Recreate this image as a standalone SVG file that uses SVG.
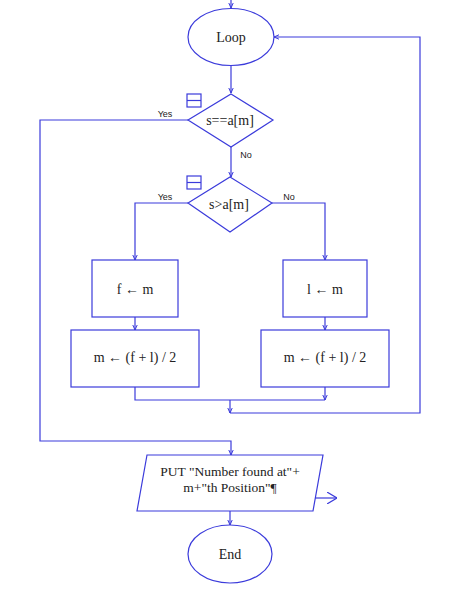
<svg xmlns="http://www.w3.org/2000/svg" width="451" height="611" viewBox="0 0 451 611">
<style>
.s{fill:#fff;stroke:#3b3bdb;stroke-width:1.2}
.c{fill:none;stroke:#3b3bdb;stroke-width:1.2}
.t{font-family:"Liberation Serif","Times New Roman",serif;font-size:14px;fill:#222;text-anchor:middle}
.p{font-size:13.5px}
.l{font-family:"Liberation Sans",Arial,sans-serif;font-size:9px;fill:#222;text-anchor:middle}
</style>
<defs>
<marker id="a" viewBox="0 0 6 6" refX="6" refY="3" markerWidth="6" markerHeight="6" markerUnits="userSpaceOnUse" orient="auto">
<path d="M1,0.8 L6,3 L1,5.2" fill="none" stroke="#3b3bdb" stroke-width="1"/>
</marker>
<marker id="o" viewBox="0 0 10 12" refX="10" refY="6" markerWidth="10" markerHeight="12" markerUnits="userSpaceOnUse" orient="auto">
<path d="M0,0 L10,6 L0,12" fill="none" stroke="#3b3bdb" stroke-width="1.2"/>
</marker>
</defs>
<rect width="451" height="611" fill="#fff"/>
<g id="connectors">
<path class="c" d="M231,0 V8" marker-end="url(#a)"/>
<path class="c" d="M231,65 V93" marker-end="url(#a)"/>
<path class="c" d="M231,147 V177" marker-end="url(#a)"/>
<path class="c" d="M188,120 H40 V441 H231 V455" marker-end="url(#a)"/>
<path class="c" d="M188,203 H135 V260" marker-end="url(#a)"/>
<path class="c" d="M272,203 H325 V260" marker-end="url(#a)"/>
<path class="c" d="M135,317 V330" marker-end="url(#a)"/>
<path class="c" d="M325,317 V330" marker-end="url(#a)"/>
<path class="c" d="M135,387 V400 H325"/>
<path class="c" d="M325,387 V400" marker-end="url(#a)"/>
<path class="c" d="M230,400 V413" marker-end="url(#a)"/>
<path class="c" d="M230,413 H420 V37 H274" marker-end="url(#a)"/>
<path class="c" d="M230,511 V525" marker-end="url(#a)"/>
<path class="c" d="M315,498 H337" marker-end="url(#o)"/>
<text class="l" x="165" y="117">Yes</text>
<text class="l" x="246" y="158">No</text>
<text class="l" x="165" y="200">Yes</text>
<text class="l" x="289" y="200">No</text>
</g>
<g id="loop">
<ellipse class="s" cx="231" cy="37" rx="43" ry="28.5"/>
<text class="t" x="231" y="42">Loop</text>
</g>
<g id="dec1">
<polygon class="s" points="231,94 273,120 231,147 188,120"/>
<rect class="s" x="187" y="94" width="14" height="13"/>
<line class="c" x1="187" y1="100.5" x2="201" y2="100.5"/>
<text class="t" x="230" y="125">s==a[m]</text>
</g>
<g id="dec2">
<polygon class="s" points="230,177 272,203 230,232 188,203"/>
<rect class="s" x="187" y="176" width="14" height="13"/>
<line class="c" x1="187" y1="182.5" x2="201" y2="182.5"/>
<text class="t" x="229" y="209">s&gt;a[m]</text>
</g>
<g id="fm">
<rect class="s" x="92" y="260" width="86" height="57"/>
<text class="t" x="135" y="294">f ← m</text>
</g>
<g id="lm">
<rect class="s" x="283" y="260" width="84" height="57"/>
<text class="t" x="325" y="294">l ← m</text>
</g>
<g id="m1">
<rect class="s" x="71" y="330" width="128" height="57"/>
<text class="t" x="135" y="362">m ← (f + l) / 2</text>
</g>
<g id="m2">
<rect class="s" x="261" y="330" width="128" height="57"/>
<text class="t" x="325" y="362">m ← (f + l) / 2</text>
</g>
<g id="put">
<polygon class="s" points="147,455 323,455 313,511 137,511"/>
<text class="t p" x="230" y="476">PUT "Number found at"+</text>
<text class="t p" x="230" y="492">m+"th Position"¶</text>
</g>
<g id="end">
<ellipse class="s" cx="230" cy="554" rx="42" ry="29"/>
<text class="t" x="230" y="559">End</text>
</g>
</svg>
